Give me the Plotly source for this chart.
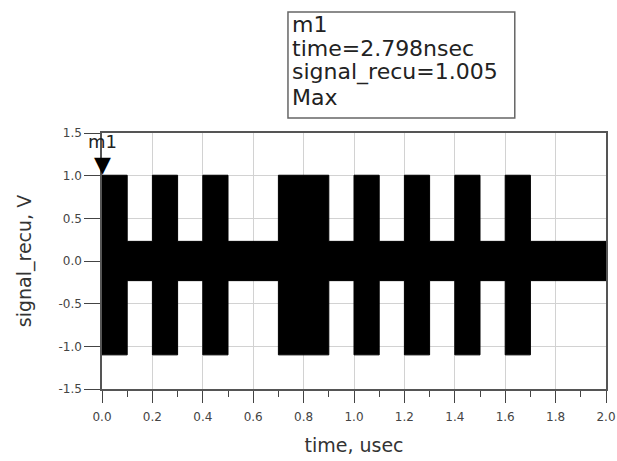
import plotly.graph_objects as go

# ---- data ----
bit_period_us = 0.1                      # usec per symbol
bits = [1, 0, 1, 0, 1, 0, 0, 1, 1, 0, 1, 0, 1, 0, 1, 0, 1, 0, 0, 0]
high_max, high_min = 1.005, -1.10        # envelope of the carrier for a "1"
low_max, low_min = 0.23, -0.23           # envelope of the carrier for a "0"

marker_name = "m1"
marker_time_us = 0.002798                # 2.798 nsec
marker_value = 1.005
marker_lines = ["m1", "time=2.798nsec", "signal_recu=1.005", "Max"]

x_ticks = [0.0, 0.2, 0.4, 0.6, 0.8, 1.0, 1.2, 1.4, 1.6, 1.8, 2.0]
x_tick_labels = ["0.0", "0.2", "0.4", "0.6", "0.8", "1.0", "1.2", "1.4", "1.6", "1.8", "2.0"]
y_ticks = [-1.5, -1.0, -0.5, 0.0, 0.5, 1.0, 1.5]
y_tick_labels = ["-1.5", "-1.0", "-0.5", "0.0", "0.5", "1.0", "1.5"]

# ---- envelope polygon (upper edge forward, lower edge back) ----
t_up, v_up, t_lo, v_lo = [], [], [], []
for i, b in enumerate(bits):
    t0, t1 = i * bit_period_us, (i + 1) * bit_period_us
    hi = high_max if b else low_max
    lo = high_min if b else low_min
    t_up += [t0, t1]
    v_up += [hi, hi]
    t_lo += [t0, t1]
    v_lo += [lo, lo]
poly_t = t_up + t_lo[::-1] + [t_up[0]]
poly_v = v_up + v_lo[::-1] + [v_up[0]]

FONT = "DejaVu Sans"
fig = go.Figure()
fig.add_trace(go.Scatter(
    x=poly_t, y=poly_v, mode="lines", fill="toself",
    fillcolor="black", line=dict(color="black", width=1),
    hoverinfo="skip", showlegend=False, name="signal_recu"))

# marker triangle and name, anchored at the marker data point
fig.add_annotation(x=marker_time_us, y=marker_value, xref="x", yref="y",
                   text="\u25BC", showarrow=False, yanchor="bottom", yshift=-3,
                   borderpad=0,
                   font=dict(family=FONT, size=22, color="black"))
fig.add_annotation(x=marker_time_us, y=marker_value, xref="x", yref="y",
                   text=marker_name, showarrow=False, yanchor="bottom", yshift=22,
                   borderpad=0,
                   font=dict(family=FONT, size=18, color="#222"))

# marker readout box
fig.add_shape(type="rect", xref="paper", yref="paper",
              x0=0.369, x1=0.819, y0=1.0586, y1=1.4727,
              line=dict(color="#666", width=1.5), fillcolor="white")
line_y = [1.4219, 1.332, 1.2383, 1.1406]
for txt, yy in zip(marker_lines, line_y):
    fig.add_annotation(x=0.374, y=yy, xref="paper", yref="paper",
                       xanchor="left", yanchor="middle", text=txt,
                       showarrow=False,
                       font=dict(family=FONT, size=22, color="#222"))

fig.update_layout(
    width=617, height=461,
    margin=dict(l=102, r=11, t=133, b=72),
    paper_bgcolor="white", plot_bgcolor="white",
    font=dict(family=FONT, color="#333"),
    showlegend=False,
)
fig.update_xaxes(
    range=[0, 2.0], tickvals=x_ticks, ticktext=x_tick_labels,
    ticks="outside", ticklen=12, tickcolor="#444", tickwidth=1,
    ticklabelstandoff=4,
    minor=dict(dtick=0.1, ticks="outside", ticklen=6, tickcolor="#444", showgrid=False),
    showgrid=True, gridcolor="#d2d2d2", gridwidth=1,
    showline=True, linecolor="#555", linewidth=1.5, mirror=True,
    zeroline=False, automargin=False,
    tickfont=dict(family=FONT, size=12, color="#444"),
    title=dict(text="time, usec", font=dict(family=FONT, size=19, color="#333"), standoff=16),
)
fig.update_yaxes(
    range=[-1.5, 1.5], tickvals=y_ticks, ticktext=y_tick_labels,
    ticks="outside", ticklen=16, tickcolor="#444", tickwidth=1,
    showgrid=True, gridcolor="#d2d2d2", gridwidth=1,
    showline=True, linecolor="#555", linewidth=1.5, mirror=True,
    zeroline=False, automargin=False,
    tickfont=dict(family=FONT, size=12, color="#444"),
    title=dict(text="signal_recu, V", font=dict(family=FONT, size=19, color="#333"), standoff=22),
)

# remove the browser's default 8 px body margin so the 617x461 figure fills the window
fig.write_html("out.html",
               config={"displayModeBar": False},
               post_script="document.body.style.margin='0px';document.body.style.overflow='hidden';")
